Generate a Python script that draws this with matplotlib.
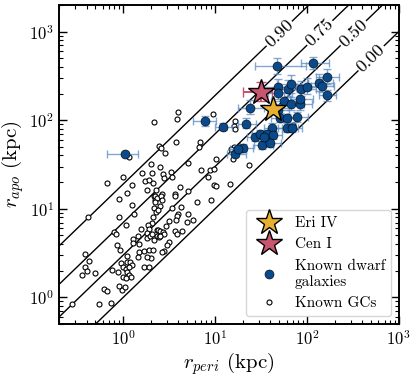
import numpy as np
import matplotlib
matplotlib.use("Agg")
import matplotlib.pyplot as plt

plt.rcParams['font.family'] = 'serif'
plt.rcParams['font.serif'] = ['cmr10']
plt.rcParams['mathtext.fontset'] = 'cm'
plt.rcParams['axes.formatter.use_mathtext'] = True

# ---- known globular clusters (rperi, rapo) in kpc ----
gc_rperi = [2.18, 3.95, 3.83, 3.75, 2.48, 2.55, 2.84, 1.16, 2.02, 1.0, 0.66, 1.24, 1.6, 2.07,
            2.71, 3.31, 3.40, 2.75, 1.74, 1.92, 2.10, 1.10, 1.84, 2.27, 5.11, 6.92, 6.69, 9.42,
            7.0, 4.19, 10.2, 2.53, 8.73, 9.66, 8.3, 9.66, 10.3, 14.4, 15.6, 23.5, 5.1, 3.69,
            2.64, 15.9, 17.1, 18.4, 15.0, 12.4, 16.3, 16.0, 16.6, 67.3, 70.5,
            0.89, 1.26, 0.41, 0.89, 1.32, 1.07, 0.80, 0.83, 2.14, 2.23, 2.14, 2.27, 2.09, 2.04,
            1.87, 1.92, 1.84, 1.56, 1.46, 1.29, 1.29, 1.47, 1.80, 1.97, 2.31, 2.33, 2.43, 0.85,
            0.93, 1.49, 1.69, 1.89, 2.02, 1.80, 1.46, 1.11, 0.94, 1.09, 1.19, 1.24, 0.38, 0.43,
            0.38, 0.40, 0.36, 0.50, 0.76, 0.87, 1.0, 1.07, 1.11, 1.16, 1.16, 1.23, 1.0, 1.07,
            1.69, 1.92, 0.90, 0.98, 1.04, 0.62, 0.66, 0.73, 0.54, 0.28,
            2.23, 2.33, 2.6, 2.66, 2.23, 2.53, 2.37, 3.69, 4.26, 3.40, 6.36, 9.12, 4.0, 3.85,
            5.08, 5.75, 5.0, 3.78, 3.17, 2.92, 2.37, 2.53, 2.71, 2.75, 2.53, 2.18, 2.06, 3.69,
            3.83, 4.37, 3.12, 3.0, 2.75, 2.64, 2.11]
gc_rapo = [95, 124, 102, 57, 51, 48.5, 43, 38.7, 32.3, 22.9, 19.6, 18.6, 25.6, 25.2,
           25, 26, 23, 22.5, 20.4, 21.1, 19.8, 14.9, 16.5, 16.5, 32.5, 57, 50, 116,
           27.6, 17.4, 36.2, 29.9, 27.4, 28, 23, 18.4, 18.1, 18.9, 36.5, 31.4, 15.9, 14.6,
           14.6, 49.5, 47.8, 51, 47, 81, 97.5, 87, 79, 83.5, 89,
           12.8, 11.1, 8.1, 8.0, 8.85, 6.56, 5.5, 5.2, 13.8, 12.6, 10.2, 9.25, 8.0, 6.83,
           6.6, 5.91, 5.4, 5.91, 4.98, 4.55, 4.07, 4.0, 4.64, 4.88, 5.76, 4.98, 4.76, 3.91,
           3.43, 3.28, 3.31, 3.43, 2.77, 2.84, 2.84, 2.91, 2.43, 2.54, 2.54, 2.35, 3.1, 2.61,
           2.19, 2.01, 1.78, 1.87, 2.06, 1.92, 2.19, 2.10, 1.92, 2.23, 1.77, 1.72, 1.69, 1.66,
           2.23, 2.19, 1.33, 1.2, 1.3, 1.26, 1.18, 0.87, 0.85, 0.85,
           14.0, 13.2, 14.1, 12.6, 11.8, 10.8, 9.66, 13.8, 10.6, 10.1, 11.8, 12.5, 8.85, 8.34,
           8.7, 7.52, 7.14, 7.4, 7.2, 6.44, 5.8, 5.66, 5.5, 5.2, 4.98, 4.45, 5.2, 5.56,
           5.2, 5.66, 4.18, 3.94, 3.37, 3.28, 3.43]

# ---- known dwarf galaxies with asymmetric errors ----
dw_rperi = [1.04, 7.8, 12.2, 21.8, 23.9, 47, 116, 48, 48, 63, 67, 87, 101, 134, 146, 166, 166,
            56, 67, 84, 85, 49, 51, 60, 78, 42, 27.5, 31, 37, 43, 32.5, 20, 16.6, 61, 69, 40,
            34, 17.6]
dw_rapo = [42, 98, 84, 91, 137, 404, 440, 235, 203, 227, 254, 227, 236, 262, 246, 304, 190,
           166, 154, 154, 173, 131, 106, 106, 108, 82, 64, 70, 69, 68, 52, 49, 42, 82, 82, 55,
           65, 47]
dw_xlo = [0.38, 2.0, 2.1, 4, 6, 20, 30, 15, 10, 15, 20, 20, 25, 30, 35, 40, 30,
          15, 15, 20, 20, 10, 10, 10, 15, 8, 5, 6, 6, 8, 6, 4, 3, 12, 12, 8, 5, 3]
dw_xhi = [0.42, 2.4, 3.1, 6, 10, 50, 60, 30, 20, 30, 35, 40, 40, 60, 50, 60, 40,
          30, 25, 30, 30, 15, 15, 15, 25, 12, 8, 8, 9, 10, 10, 6, 5, 18, 20, 12, 7, 4]
dw_ylo = [2, 12, 6, 10, 20, 70, 60, 40, 30, 40, 50, 40, 40, 50, 40, 50, 25,
          30, 25, 25, 25, 15, 10, 10, 12, 8, 6, 5, 6, 6, 5, 4, 4, 8, 8, 5, 5, 4]
dw_yhi = [2, 14, 8, 15, 30, 100, 80, 60, 40, 60, 70, 50, 60, 70, 60, 70, 30,
          40, 30, 30, 35, 20, 15, 12, 15, 10, 8, 7, 8, 8, 6, 5, 5, 10, 10, 6, 6, 5]

# ---- new systems ----
eri_rperi, eri_rapo = 43, 135
eri_xerr, eri_yerr = [[3], [3]], [[10], [10]]
cen_rperi, cen_rapo = 32, 208
cen_xerr, cen_yerr = [[12], [10]], [[45], [59]]

ecc_levels = [0.0, 0.5, 0.75, 0.9]
ecc_text = ["0.00", "0.50", "0.75", "0.90"]
ecc_label_x = [500, 320, 138, 50]

fig = plt.figure(figsize=(4.15, 3.76), dpi=100)
ax = fig.add_axes([0.142, 0.138, 0.819, 0.849])
ax.set_xscale('log')
ax.set_yscale('log')
ax.set_xlim(0.2, 1000)
ax.set_ylim(0.5, 2000)

# constant-eccentricity lines
rp = np.logspace(-1, 3.5, 50)
for e, lab, xl in zip(ecc_levels, ecc_text, ecc_label_x):
    fac = (1 + e) / (1 - e)
    ax.plot(rp, rp * fac, color='k', lw=1.0, zorder=1)
    p1 = ax.transData.transform((1, fac))
    p2 = ax.transData.transform((100, 100 * fac))
    ang = np.degrees(np.arctan2(p2[1] - p1[1], p2[0] - p1[0]))
    ax.text(xl, xl * fac, lab, rotation=ang, rotation_mode='anchor', ha='center', va='center',
            fontsize=13, zorder=2,
            bbox=dict(facecolor='white', edgecolor='none', pad=1.0))

ax.plot(gc_rperi, gc_rapo, 'o', ms=3.6, mfc='white', mec='k', mew=0.8, ls='', zorder=3)

ax.errorbar(dw_rperi, dw_rapo, xerr=[dw_xlo, dw_xhi], yerr=[dw_ylo, dw_yhi], fmt='none',
            ecolor='#5b8bc3', elinewidth=1.0, capsize=3, alpha=0.75, zorder=4)
ax.plot(dw_rperi, dw_rapo, 'o', ms=6.5, mfc='#0a4a8a', mec='k', mew=0.4, ls='', zorder=5)

ax.errorbar(cen_rperi, cen_rapo, xerr=cen_xerr, yerr=cen_yerr, fmt='none', ecolor='#c8506a',
            elinewidth=1.4, capsize=3.5, zorder=6)
ax.errorbar(eri_rperi, eri_rapo, xerr=eri_xerr, yerr=eri_yerr, fmt='none', ecolor='#e0a830',
            elinewidth=1.4, capsize=3.5, zorder=6)
ax.plot(cen_rperi, cen_rapo, '*', ms=19, mfc='#c8566e', mec='k', mew=1.0, ls='', zorder=7)
ax.plot(eri_rperi, eri_rapo, '*', ms=19, mfc='#e8b030', mec='k', mew=1.0, ls='', zorder=7)

# legend handles
h1, = ax.plot([], [], '*', ms=19, mfc='#e8b030', mec='k', mew=1.0, ls='')
h2, = ax.plot([], [], '*', ms=19, mfc='#c8566e', mec='k', mew=1.0, ls='')
h3, = ax.plot([], [], 'o', ms=6.5, mfc='#0a4a8a', mec='k', mew=0.4, ls='')
h4, = ax.plot([], [], 'o', ms=3.6, mfc='white', mec='k', mew=0.8, ls='')
leg = ax.legend([h1, h2, h3, h4], ['Eri IV', 'Cen I', 'Known dwarf\ngalaxies', 'Known GCs'],
                loc='lower right', fontsize=11, frameon=True, fancybox=True,
                handletextpad=0.6, borderpad=0.4, labelspacing=0.5, handlelength=2.2)
leg.get_frame().set_edgecolor('#cccccc')

ax.set_xlabel(r'$r_{peri}$ (kpc)', fontsize=15, labelpad=2)
ax.set_ylabel(r'$r_{apo}$ (kpc)', fontsize=15, labelpad=2)
ax.tick_params(which='both', direction='in', top=True, right=True, labelsize=12)
ax.tick_params(which='major', length=6, width=1.0)
ax.tick_params(which='minor', length=3, width=0.8)
for s in ax.spines.values():
    s.set_linewidth(1.4)

fig.savefig('out.png', dpi=100)
